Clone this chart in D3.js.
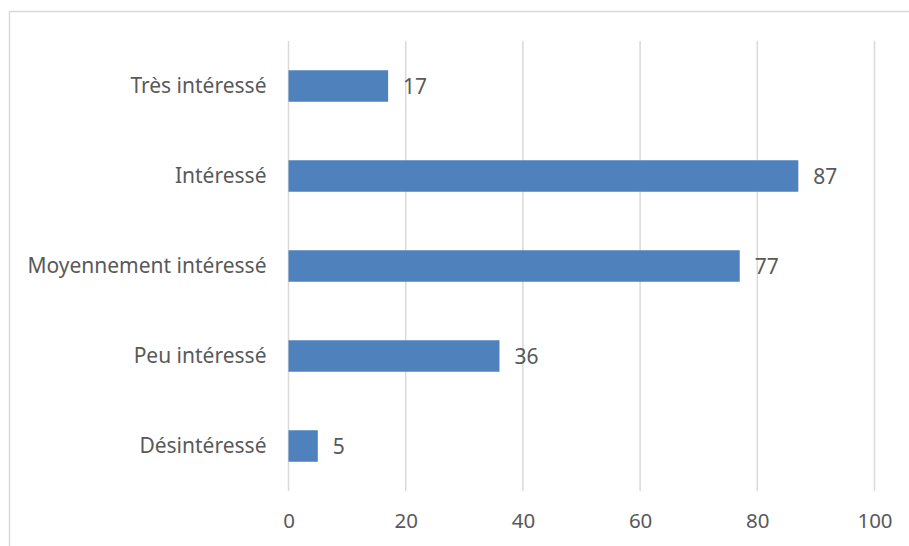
<!DOCTYPE html>
<html>
<head>
<meta charset="utf-8">
<script src="https://cdn.jsdelivr.net/npm/d3@7"></script>
<style>
  html, body { margin: 0; padding: 0; background: #fff; }
  svg { display: block; }
  text { font-family: "Noto Sans", "Open Sans", sans-serif; fill: #595959; }
</style>
</head>
<body>
<svg id="chart" width="909" height="546"></svg>
<script>
// Interest levels (top to bottom) and respondent counts
const categories = ["Très intéressé", "Intéressé", "Moyennement intéressé", "Peu intéressé", "Désintéressé"];
const counts = [17, 87, 77, 36, 5];
const tickValues = [0, 20, 40, 60, 80, 100];

const W = 909, H = 546;
const margin = { left: 288.5, right: 34.5, top: 41, bottom: 55 };

const svg = d3.select("#chart");

// Chart frame
svg.append("rect")
  .attr("x", 9.5).attr("y", 11.5)
  .attr("width", W + 20).attr("height", H + 20)
  .attr("fill", "none")
  .attr("stroke", "#d9d9d9")
  .attr("stroke-width", 1.5);

const x = d3.scaleLinear()
  .domain([0, 100])
  .range([margin.left, W - margin.right]);

const y = d3.scaleBand()
  .domain(categories)
  .range([margin.top, H - margin.bottom])
  .paddingInner(0.65)
  .paddingOuter(0.325);

// Vertical gridlines
svg.append("g")
  .selectAll("line")
  .data(tickValues)
  .join("line")
  .attr("x1", d => x(d)).attr("x2", d => x(d))
  .attr("y1", margin.top).attr("y2", H - margin.bottom)
  .attr("stroke", "#d9d9d9")
  .attr("stroke-width", 1.5);

// Value axis tick labels
const xAxis = d3.axisBottom(x).tickValues(tickValues).tickSize(0).tickPadding(0);
const gx = svg.append("g")
  .attr("transform", `translate(0, ${H - margin.bottom + 22})`)
  .call(xAxis);
gx.select(".domain").remove();
gx.selectAll("text")
  .attr("dy", "0.71em")
  .style("font-size", "20.5px")
  .style("font-family", "\"Noto Sans\", sans-serif")
  .attr("fill", "#595959");

// Category labels
const yAxis = d3.axisLeft(y).tickSize(0).tickPadding(0);
const gy = svg.append("g")
  .attr("transform", `translate(${margin.left - 22}, 0)`)
  .call(yAxis);
gy.select(".domain").remove();
gy.selectAll("text")
  .style("font-size", "21px")
  .style("font-family", "\"Noto Sans\", sans-serif")
  .attr("fill", "#595959");

// Bars
svg.append("g")
  .selectAll("rect")
  .data(categories)
  .join("rect")
  .attr("x", x(0))
  .attr("y", d => y(d))
  .attr("width", (d, i) => x(counts[i]) - x(0))
  .attr("height", y.bandwidth())
  .attr("fill", "#4f81bd");

// Value labels
svg.append("g")
  .selectAll("text")
  .data(categories)
  .join("text")
  .attr("x", (d, i) => x(counts[i]) + 15)
  .attr("y", d => y(d) + y.bandwidth() / 2)
  .attr("dy", "0.38em")
  .style("font-size", "21px")
  .attr("fill", "#404040")
  .text((d, i) => counts[i]);
</script>
</body>
</html>
